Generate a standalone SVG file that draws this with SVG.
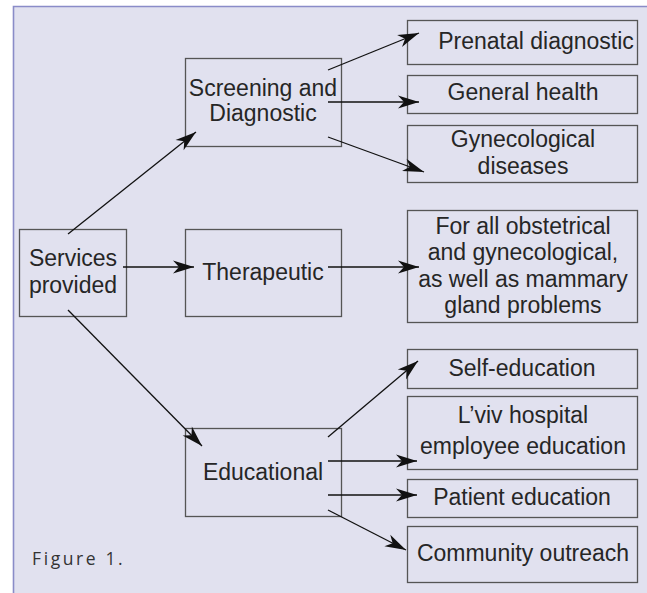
<svg xmlns="http://www.w3.org/2000/svg" width="647" height="593" viewBox="0 0 647 593">
<style>
.bg{fill:#e1e1ef}
.frame{fill:none;stroke:#8a8cc8;stroke-width:1.6}
.box{fill:none;stroke:#555;stroke-width:1.3}
.t{font-family:"Liberation Sans",Arial,sans-serif;font-size:23px;fill:#262626;text-anchor:middle}
.cap{font-family:"Open Sans","Liberation Sans",sans-serif;font-size:17.5px;letter-spacing:2.6px;fill:#333}
.c{fill:none;stroke:#111;stroke-width:1.3;marker-end:url(#ah)}
</style>
<defs>
<marker id="ah" markerUnits="userSpaceOnUse" markerWidth="24" markerHeight="16" viewBox="-22 -8 24 16" refX="0" refY="0" orient="auto">
<path d="M0,0 L-21,-6.5 L-15,0 L-21,6.5 Z" fill="#111"/>
</marker>
</defs>
<rect x="0" y="0" width="647" height="593" fill="#fff"/>
<rect class="bg" x="13" y="6" width="634" height="587"/>
<path class="frame" d="M13.5,593 V6.5 H647"/>
<g id="services"><rect class="box" x="19.5" y="229.5" width="107" height="87"/><text class="t" x="73" y="266">Services</text><text class="t" x="73" y="293">provided</text></g>
<g id="screening"><rect class="box" x="185.5" y="58.5" width="156" height="88"/><text class="t" x="263" y="96">Screening and</text><text class="t" x="263" y="121">Diagnostic</text></g>
<g id="therapeutic"><rect class="box" x="185.5" y="229.5" width="156" height="87"/><text class="t" x="263" y="280">Therapeutic</text></g>
<g id="educational"><rect class="box" x="185.5" y="428.5" width="156" height="88"/><text class="t" x="263" y="480">Educational</text></g>
<g id="prenatal"><rect class="box" x="407.5" y="20.5" width="230" height="44"/><text class="t" x="536" y="49">Prenatal diagnostic</text></g>
<g id="general"><rect class="box" x="407.5" y="75.5" width="230" height="38"/><text class="t" x="523" y="100">General health</text></g>
<g id="gyn"><rect class="box" x="407.5" y="125.5" width="230" height="57"/><text class="t" x="523" y="147">Gynecological</text><text class="t" x="523" y="174">diseases</text></g>
<g id="forall"><rect class="box" x="407.5" y="210.5" width="230" height="112"/><text class="t" x="523" y="234">For all obstetrical</text><text class="t" x="523" y="260">and gynecological,</text><text class="t" x="523" y="287">as well as mammary</text><text class="t" x="523" y="313">gland problems</text></g>
<g id="self"><rect class="box" x="407.5" y="349.5" width="230" height="39"/><text class="t" x="522" y="376">Self-education</text></g>
<g id="lviv"><rect class="box" x="407.5" y="396.5" width="230" height="73"/><text class="t" x="523" y="423">L’viv hospital</text><text class="t" x="523" y="454">employee education</text></g>
<g id="patient"><rect class="box" x="407.5" y="479.5" width="230" height="38"/><text class="t" x="522" y="505">Patient education</text></g>
<g id="community"><rect class="box" x="407.5" y="526.5" width="230" height="56"/><text class="t" x="523" y="561">Community outreach</text></g>
<g id="connectors">
<line class="c" x1="68" y1="234" x2="196" y2="132"/>
<line class="c" x1="123" y1="267" x2="194" y2="267"/>
<line class="c" x1="68" y1="310" x2="202" y2="446"/>
<line class="c" x1="328" y1="70" x2="419" y2="33"/>
<line class="c" x1="328" y1="102" x2="419" y2="102"/>
<line class="c" x1="328" y1="137" x2="424" y2="172"/>
<line class="c" x1="328" y1="267" x2="419" y2="267"/>
<line class="c" x1="328" y1="437" x2="418" y2="361"/>
<line class="c" x1="328" y1="461" x2="417" y2="461"/>
<line class="c" x1="328" y1="495" x2="417" y2="495"/>
<line class="c" x1="328" y1="510" x2="406" y2="550"/>
</g>
<text class="cap" x="32" y="565">Figure 1.</text>
</svg>
